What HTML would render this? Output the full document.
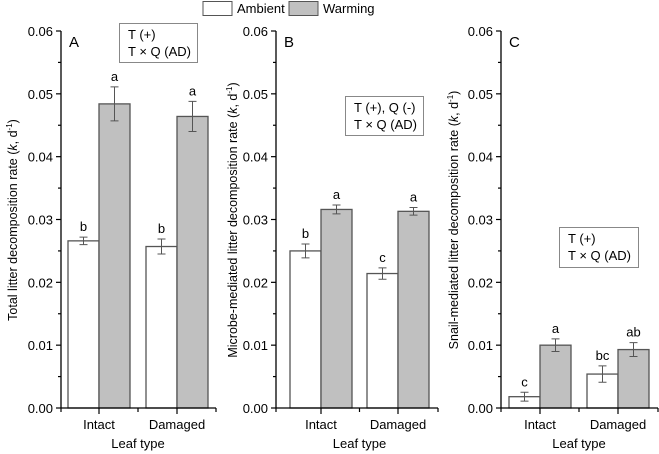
<!DOCTYPE html>
<html><head><meta charset="utf-8"><style>
body{margin:0;background:#fff}
svg{display:block;font-family:"Liberation Sans",Arial,sans-serif}
</style></head><body>
<svg id="c" width="659" height="454" viewBox="0 0 659 454" xmlns="http://www.w3.org/2000/svg">
<g>
<rect x="203" y="1.5" width="29" height="14" fill="#fff" stroke="#555"/>
<text x="237" y="13" font-size="13">Ambient</text>
<rect x="289" y="1.5" width="29" height="14" fill="#c0c0c0" stroke="#555"/>
<text x="323" y="13" font-size="13">Warming</text>
</g>
</svg>
<script>
const categories=["Intact","Damaged"];
const seriesNames=["Ambient","Warming"];
const ambientA=[0.0266,0.0257], ambientAErr=[0.0006,0.0012];
const warmingA=[0.0484,0.0464], warmingAErr=[0.0027,0.0024];
const ambientB=[0.0250,0.0214], ambientBErr=[0.0011,0.0009];
const warmingB=[0.0316,0.0313], warmingBErr=[0.0007,0.0006];
const ambientC=[0.0018,0.0054], ambientCErr=[0.0007,0.0013];
const warmingC=[0.0100,0.0093], warmingCErr=[0.0010,0.0011];
const lettersA=[["b","b"],["a","a"]];
const lettersB=[["b","c"],["a","a"]];
const lettersC=[["c","bc"],["a","ab"]];
const yTicks=["0.00","0.01","0.02","0.03","0.04","0.05","0.06"];
const yMax=0.06;

const svg=document.getElementById('c');
const NS='http://www.w3.org/2000/svg';
function mk(tag,at,parent){const e=document.createElementNS(NS,tag);for(const k in at)e.setAttribute(k,at[k]);(parent||svg).appendChild(e);return e;}
const Y0=408,Y1=31;
function yS(v){return Y0-(v/yMax)*(Y0-Y1);}

const panels=[
 {id:'a',left:61,c:[99,177],right:216,amb:ambientA,ambE:ambientAErr,war:warmingA,warE:warmingAErr,let:lettersA,
  title:'Total litter decomposition rate',tx:13,label:'A',box:[119,23,78,39],boxText:['T (+)','T × Q (AD)']},
 {id:'b',left:276,c:[321,398],right:438,amb:ambientB,ambE:ambientBErr,war:warmingB,warE:warmingBErr,let:lettersB,
  title:'Microbe-mediated litter decomposition rate',tx:233,label:'B',box:[345,96,78,39],boxText:['T (+), Q (-)','T × Q (AD)']},
 {id:'c',left:501,c:[540,618],right:658,amb:ambientC,ambE:ambientCErr,war:warmingC,warE:warmingCErr,let:lettersC,
  title:'Snail-mediated litter decomposition rate',tx:454,label:'C',box:[559,227,79,40],boxText:['T (+)','T × Q (AD)']}
];
const bw=31;
panels.forEach(p=>{
 const g=mk('g',{});
 
 
 // bars
 [[p.amb,p.ambE,'#fff',-1,0],[p.war,p.warE,'#c0c0c0',0,1]].forEach(([vals,errs,fill,off,si])=>{
  vals.forEach((v,i)=>{
   const x=p.c[i]+off*bw;
   const r=mk('rect',{x:x,y:yS(v),width:bw,height:Y0-yS(v),fill:fill,stroke:'#555','stroke-width':1.3},g);
   
   
   const cx=x+bw/2, t=yS(v+errs[i]), b=yS(v-errs[i]);
   const e=mk('path',{d:`M${cx} ${t}V${b}M${cx-4} ${t}H${cx+4}M${cx-4} ${b}H${cx+4}`,stroke:'#555','stroke-width':1,fill:'none'},g);
   
   
   const tx=mk('text',{x:cx,y:t-6,'font-size':13,'text-anchor':'middle'},g);
   tx.textContent=p.let[si][i];
   
   
  });
 });
 // axes
 const ax=mk('path',{d:`M${p.left} ${Y1}V${Y0}H${p.right}`,stroke:'#000','stroke-width':1.3,fill:'none'},g);
 
 
 yTicks.forEach((t,i)=>{
  const v=i*0.01,y=yS(v);
  mk('line',{x1:p.left-5,x2:p.left,y1:y,y2:y,stroke:'#000','stroke-width':1.2},g);
  if(i<yTicks.length-1){const ym=yS(v+0.005);mk('line',{x1:p.left-3,x2:p.left,y1:ym,y2:ym,stroke:'#000','stroke-width':1.2},g);}
  const l=mk('text',{x:p.left-8,y:y+5,'font-size':13,'text-anchor':'end'},g);
  l.textContent=t;
  
  
 });
 const mid=(p.c[0]+p.c[1])/2;
 [p.left,mid,p.right].forEach(x=>mk('line',{x1:x,x2:x,y1:Y0,y2:Y0+4,stroke:'#000','stroke-width':1.2},g));
 categories.forEach((c,i)=>{
  mk('line',{x1:p.c[i],x2:p.c[i],y1:Y0,y2:Y0+6,stroke:'#000','stroke-width':1.2},g);
  const l=mk('text',{x:p.c[i],y:429,'font-size':13,'text-anchor':'middle'},g);
  l.textContent=c;
  
  
 });
 const xt=mk('text',{x:mid,y:448,'font-size':13,'text-anchor':'middle'},g);
 xt.textContent='Leaf type';
 
 
 const yt=mk('text',{x:0,y:0,'font-size':12.5,'text-anchor':'middle',transform:`translate(${p.tx+4},220) rotate(-90)`},g);
 yt.innerHTML=p.title+' (<tspan font-style="italic">k</tspan>, d<tspan font-size="8" dy="-5">-1</tspan><tspan dy="5">)</tspan>';
 
 
 const pl=mk('text',{x:p.left+8,y:47,'font-size':15},g);
 pl.textContent=p.label;
 
 
 const bx=p.box;
 const br=mk('rect',{x:bx[0]+.5,y:bx[1]+.5,width:bx[2],height:bx[3],fill:'#fff',stroke:'#888'},g);
 
 
 p.boxText.forEach((s,i)=>{
  const t=mk('text',{x:bx[0]+9,y:bx[1]+16+i*17,'font-size':13},g);
  t.textContent=s;
  
  
 });
});
</script>
</body></html>
